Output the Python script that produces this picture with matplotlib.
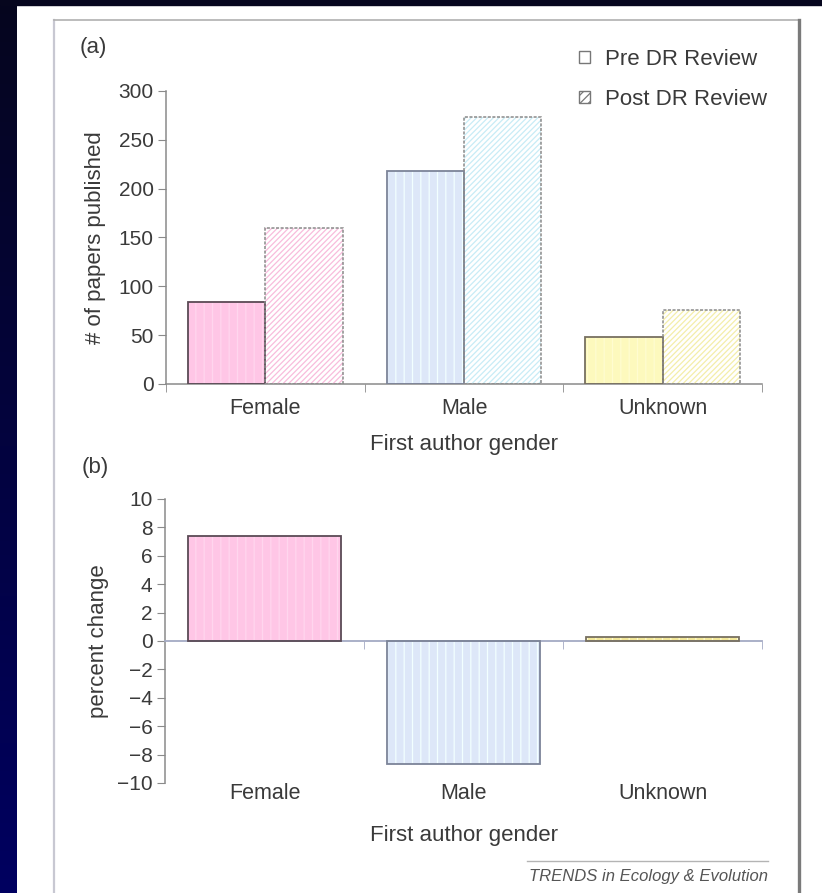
import numpy as np
import matplotlib.pyplot as plt
from matplotlib.patches import Patch
from matplotlib.lines import Line2D
from matplotlib.transforms import blended_transform_factory

plt.rcParams['font.family'] = ['Liberation Sans', 'DejaVu Sans']
plt.rcParams['hatch.linewidth'] = 0.9

# data
genders = ['Female', 'Male', 'Unknown']
pre_review = [84, 218, 48]
post_review = [160, 273, 76]
pct_change = [7.4, -8.65, 0.3]

fill_pre = ['#ffc6e6', '#dde7f8', '#fdf9bd']
stripe_pre = ['#ffd6ee', '#f2ffff', '#fffcd0']
hatch_post = ['#f8bcdc', '#c8ecf6', '#f4eeaa']
edge_pre = ['#5a4a55', '#7c8498', '#777060']
fill_chg = ['#ffc6e6', '#dde7f8', '#f3e89a']

W, H = 822, 893
def fx(px):
    return px / W
def fy(py):
    return 1 - py / H

text_col = '#3a3a3a'
axis_col = '#8a8a8a'

fig = plt.figure(figsize=(W / 100, H / 100), dpi=100)
fig.patch.set_facecolor('white')

# dark frame around the panel
grad = np.linspace(0, 1, 256).reshape(-1, 1)
bg = fig.add_axes([0, 0, fx(16), 1])
top_c = np.array([6, 6, 30]) / 255
bot_c = np.array([0, 0, 96]) / 255
img = top_c[None, None, :] * (1 - grad[:, :, None]) + bot_c[None, None, :] * grad[:, :, None]
bg.imshow(img, aspect='auto', extent=[0, 1, 0, 1])
bg.axis('off')
fig.patches.append(plt.Rectangle((0, fy(5)), 1, 5 / H, transform=fig.transFigure,
                                 color='#06061e', zorder=5))

# grey panel border
fig.lines.append(Line2D([fx(54), fx(54)], [fy(20), 0], transform=fig.transFigure,
                        color='#c8c8d2', lw=1.6))
fig.lines.append(Line2D([fx(54), fx(799)], [fy(20), fy(20)], transform=fig.transFigure,
                        color='#b0b0b0', lw=1.2))
fig.lines.append(Line2D([fx(799), fx(799)], [fy(20), 0], transform=fig.transFigure,
                        color='#7a7a7a', lw=2.4))

x = np.arange(len(genders))
bounds = np.arange(len(genders) + 1) - 0.5

# (a) papers published
ax1 = fig.add_axes([fx(166), fy(384), (762 - 166) / W, (384 - 91) / H])
w = 0.39
for i in range(len(genders)):
    ax1.bar(x[i] - w / 2, pre_review[i], w, color=fill_pre[i], hatch='||',
            edgecolor=stripe_pre[i], linewidth=0, zorder=2)
    ax1.bar(x[i] - w / 2, pre_review[i], w, fill=False, edgecolor=edge_pre[i],
            linewidth=1.3, zorder=3)
    ax1.bar(x[i] + w / 2, post_review[i], w, color='white', hatch='//////',
            edgecolor=hatch_post[i], linewidth=0, zorder=2)
    ax1.bar(x[i] + w / 2, post_review[i], w, fill=False, edgecolor='#8a8a8a',
            linewidth=1.1, linestyle=(0, (2, 1)), zorder=3)

ax1.set_xlim(bounds[0], bounds[-1])
ax1.set_ylim(0, 300)
ax1.set_yticks(np.arange(0, 301, 50))
ax1.set_xticks(x)
ax1.set_xticklabels(genders)
ax1.set_xticks(bounds, minor=True)
ax1.tick_params(axis='x', which='major', length=0, pad=10, labelsize=15.5, labelcolor=text_col)
ax1.tick_params(axis='x', which='minor', length=6, color=axis_col)
ax1.tick_params(axis='y', length=6, color=axis_col, labelsize=15, labelcolor=text_col, pad=3)
ax1.set_xlabel('First author gender', fontsize=16, color=text_col, labelpad=11)
ax1.set_ylabel('# of papers published', fontsize=16, color=text_col, labelpad=9)
for s in ['top', 'right']:
    ax1.spines[s].set_visible(False)
for s in ['left', 'bottom']:
    ax1.spines[s].set_color(axis_col)
    ax1.spines[s].set_linewidth(1.1)

handles = [Patch(facecolor='white', edgecolor='#777777', linewidth=1.0),
           Patch(facecolor='white', edgecolor='#777777', linewidth=1.0, hatch='////')]
fig.legend(handles, ['Pre DR Review', 'Post DR Review'], loc='upper left',
           bbox_to_anchor=(fx(559), fy(29)), frameon=False, fontsize=16,
           handlelength=0.5, handleheight=0.5, handletextpad=0.65,
           labelspacing=0.85, labelcolor=text_col)

fig.text(fx(80), fy(47), '(a)', fontsize=16, color=text_col, va='center')

# (b) percent change
ax2 = fig.add_axes([fx(165), fy(783), (762 - 165) / W, (783 - 499) / H])
wb = 0.77
for i in range(len(genders)):
    ax2.bar(x[i], pct_change[i], wb, color=fill_chg[i], hatch='||',
            edgecolor=stripe_pre[i], linewidth=0, zorder=2)
    ax2.bar(x[i], pct_change[i], wb, fill=False, edgecolor=edge_pre[i],
            linewidth=1.3, zorder=3)

ax2.set_xlim(bounds[0], bounds[-1])
ax2.set_ylim(-10, 10)
ax2.set_yticks(np.arange(-10, 11, 2))
ax2.spines['bottom'].set_position(('data', 0))
ax2.spines['bottom'].set_color('#a4aac4')
ax2.spines['bottom'].set_linewidth(1.3)
ax2.spines['left'].set_color(axis_col)
ax2.spines['left'].set_linewidth(1.1)
for s in ['top', 'right']:
    ax2.spines[s].set_visible(False)
ax2.set_xticks([])
ax2.set_xticks(bounds[1:], minor=True)
ax2.tick_params(axis='x', which='minor', length=6, color='#a4aac4')
ax2.tick_params(axis='y', length=6, color=axis_col, labelsize=15, labelcolor=text_col, pad=3)
ax2.set_yticklabels([f'{v}'.replace('-', '\u2212') for v in np.arange(-10, 11, 2)])
ax2.set_ylabel('percent change', fontsize=16, color=text_col, labelpad=6)

trans = blended_transform_factory(ax2.transData, ax2.transAxes)
for xi, name in zip(x, genders):
    ax2.text(xi, -0.038, name, transform=trans, ha='center', va='center',
             fontsize=15.5, color=text_col)
fig.text(fx(464), fy(835), 'First author gender', fontsize=16, color=text_col,
         ha='center', va='center')
fig.text(fx(82), fy(467), '(b)', fontsize=16, color=text_col, va='center')

# journal footer
fig.lines.append(Line2D([fx(527), fx(768)], [fy(861), fy(861)], transform=fig.transFigure,
                        color='#b4b4b4', lw=1.0))
fig.text(fx(768), fy(877), 'TRENDS in Ecology & Evolution', fontsize=12, style='italic',
         color='#555555', ha='right', va='center')

fig.savefig('out.png', dpi=100)
